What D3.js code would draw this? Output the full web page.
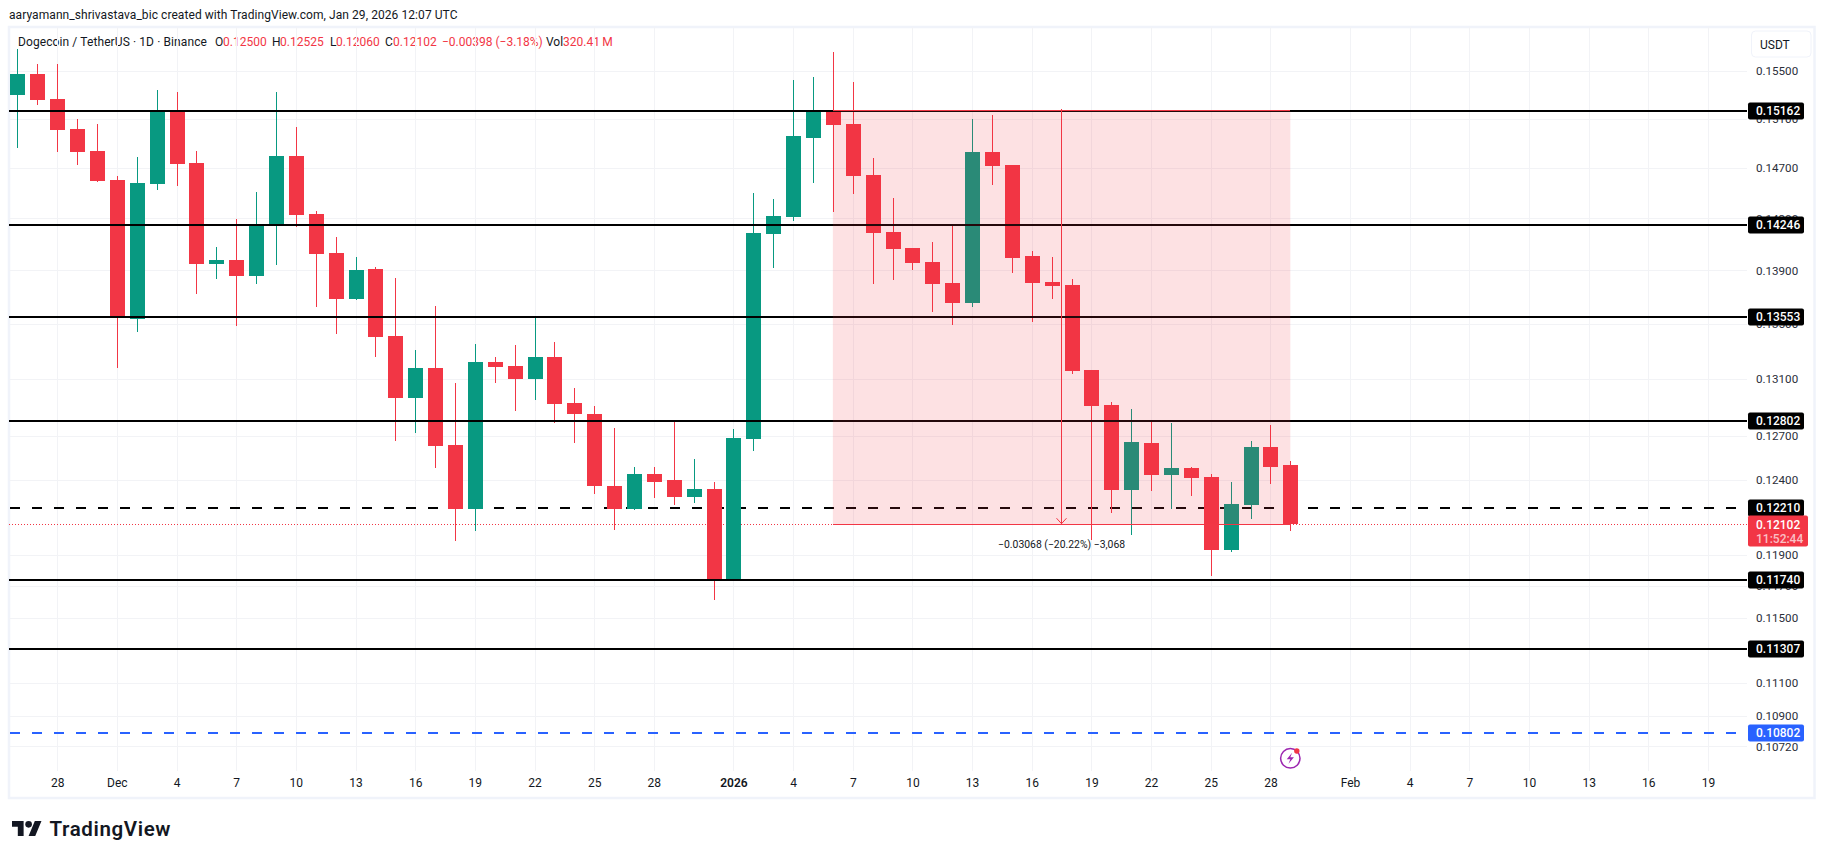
<!DOCTYPE html>
<html><head><meta charset="utf-8">
<script src="https://cdnjs.cloudflare.com/ajax/libs/d3/7.8.5/d3.min.js"></script>
<style>
html,body{margin:0;padding:0;background:#fff}
svg{display:block}
text{font-family:Roboto,"Liberation Sans",sans-serif}
</style></head><body>
<svg id="c" width="1825" height="859"></svg>
<script>
const opens=[.15295,.15472,.15261,.15013,.14834,.14600,.13535,.14570,.15158,.14737,.13948,.13976,.13857,.14254,.14793,.14332,.14030,.13684,.13908,.13408,.12968,.13175,.12634,.12202,.13219,.13190,.13103,.13255,.12926,.12849,.12360,.12200,.12435,.12394,.12280,.12334,.11742,.12677,.14176,.14308,.14939,.15156,.15054,.14640,.14192,.14068,.13961,.13801,.13652,.14826,.14721,.14007,.13809,.13786,.13161,.12912,.12327,.12647,.12428,.12476,.12421,.11936,.12227,.12620,.12500];
const highs=[.15682,.15557,.15557,.15095,.15054,.14632,.14785,.15337,.15320,.14834,.14076,.14293,.14505,.15320,.15030,.14355,.14153,.13999,.13923,.13839,.13306,.13630,.13068,.13350,.13255,.13342,.13543,.13364,.13032,.12905,.12751,.12489,.12489,.12800,.12537,.12381,.12744,.14497,.14450,.15421,.15446,.15659,.15404,.14777,.14458,.14068,.14115,.14246,.15095,.15129,.14721,.14045,.13999,.13832,.13161,.12933,.12884,.12795,.12786,.12489,.12435,.12381,.12661,.12772,.12525];
const lows=[.14861,.15212,.14826,.14723,.14584,.13178,.13437,.14521,.14555,.13721,.13834,.13484,.13797,.13940,.14233,.13624,.13425,.13676,.13257,.12663,.12718,.12478,.11990,.12056,.13068,.12870,.12949,.12788,.12647,.12300,.12061,.12193,.12273,.12227,.12240,.11612,.11736,.12592,.13915,.14277,.14576,.14347,.14489,.13794,.13824,.13900,.13585,.13489,.13622,.14560,.13877,.13511,.13682,.13132,.11995,.12173,.12028,.12320,.12200,.12287,.11762,.11923,.12134,.12367,.12060];
const closes=[.15472,.15255,.15007,.14828,.14592,.13556,.14576,.15156,.14731,.13948,.13976,.13857,.14246,.14793,.14326,.14024,.13684,.13900,.13403,.12968,.13175,.12629,.12202,.13219,.13183,.13103,.13255,.12919,.12849,.12354,.12200,.12435,.12381,.12280,.12334,.11742,.12682,.14184,.14316,.14956,.15156,.15046,.14632,.14184,.14061,.13953,.13794,.13652,.14826,.14713,.13991,.13801,.13779,.13154,.12905,.12327,.12654,.12428,.12476,.12414,.11936,.12233,.12620,.12489,.12102];
const solidLevels=[.15162,.14246,.13553,.12802,.11740,.11307];
const dashedLevel=.12210, blueLevel=.10802, lastPrice=.12102;
const priceTicks=[.155,.151,.147,.143,.139,.135,.131,.127,.124,.119,.117,.115,.111,.109,.1072];
const tickDays=[2,5,8,11,14,17,20,23,26,29,32,36,39,42,45,48,51,54,57,60,63,67,70,73,76,79,82,85];
const tickLabels=["28","Dec","4","7","10","13","16","19","22","25","28","2026","4","7","10","13","16","19","22","25","28","Feb","4","7","10","13","16","19"];
const zoneStart=41, zoneEnd=64, zoneTop=.15162, zoneBottom=.12102;
const zoneLabel="\u22120.03068 (\u221220.22%) \u22123,068";

const GREEN="#089981",RED="#f23645",BLUE="#2962ff",INK="#131722",GRID="#f2f3f6",FRAME="#f0f3fa";
const L=9,R=1747,T=27,B=771;
const svg=d3.select("#c");
const x=d3.scaleLinear().domain([0,85]).range([17.4,1708]);
const y=d3.scaleLog().domain([.15162,.10802]).range([111,732.5]);
const px=v=>Math.round(x(v))+.5;
const py=v=>Math.round(y(v));

// frame
svg.append("rect").attr("x",9).attr("y",27).attr("width",1805.5).attr("height",771).attr("fill","none").attr("stroke",FRAME).attr("stroke-width",2.5);
// header text
svg.append("text").attr("x",9).attr("y",19).attr("font-size",12).attr("letter-spacing",.07).attr("fill",INK).text("aaryamann_shrivastava_bic created with TradingView.com, Jan 29, 2026 12:07 UTC");
const legend=[[18,"Dogecoin / TetherUS \u00b7 1D \u00b7 Binance",INK],[215,"O",INK],[223,"0.12500",RED],[272,"H",INK],[280,"0.12525",RED],[330,"L",INK],[336,"0.12060",RED],[385,"C",INK],[393,"0.12102",RED],[442,"\u22120.00398 (\u22123.18%)",RED],[546,"Vol",INK],[563,"320.41\u2009M",RED]];
svg.append("g").selectAll("text").data(legend).join("text").attr("x",d=>d[0]).attr("y",46).attr("font-size",12).attr("letter-spacing",(d,i)=>i?0:.1).attr("fill",d=>d[2]).text(d=>d[1]);

// grid
const grid=svg.append("g").attr("shape-rendering","crispEdges");
grid.selectAll("line.v").data(tickDays).join("line").attr("class","v").attr("x1",px).attr("x2",px).attr("y1",T).attr("y2",B).attr("stroke",GRID);
grid.selectAll("line.h").data(priceTicks).join("line").attr("class","h").attr("x1",L).attr("x2",R).attr("y1",d=>py(d)+.5).attr("y2",d=>py(d)+.5).attr("stroke",GRID);

// axes
const yAxis=d3.axisRight(y).tickValues(priceTicks).tickSize(0).tickPadding(0).tickFormat(d3.format(".5f"));
const ya=svg.append("g").attr("transform","translate(1756,0)").call(yAxis);
ya.select(".domain").remove();
ya.selectAll("text").attr("font-size",11.6).attr("fill","#2a2e39").attr("font-family","Roboto");
const xAxis=d3.axisBottom(x).tickValues(tickDays).tickSize(0).tickPadding(0).tickFormat((d,i)=>tickLabels[i]);
const xa=svg.append("g").attr("transform","translate(0,778)").call(xAxis);
xa.select(".domain").remove();
xa.selectAll("text").attr("font-size",12).attr("fill",INK).attr("font-family","Roboto").attr("font-weight",(d,i)=>tickLabels[i]==="2026"?600:400);

// lines under the candles
const under=svg.append("g").attr("shape-rendering","crispEdges");
under.append("line").attr("x1",L).attr("x2",R).attr("y1",py(lastPrice)+.5).attr("y2",py(lastPrice)+.5).attr("stroke",RED).attr("stroke-dasharray","1 2");
under.append("line").attr("x1",10).attr("x2",R-10).attr("y1",py(dashedLevel)).attr("y2",py(dashedLevel)).attr("stroke","#000").attr("stroke-width",2).attr("stroke-dasharray","10 12");

// candles
const idx=d3.range(opens.length);
const up=i=>closes[i]>=opens[i];
const cg=svg.append("g").attr("shape-rendering","crispEdges");
cg.selectAll("line").data(idx).join("line").attr("x1",px).attr("x2",px).attr("y1",i=>y(highs[i])).attr("y2",i=>y(lows[i])).attr("stroke",i=>up(i)?GREEN:RED).attr("stroke-width",1);
cg.selectAll("rect").data(idx).join("rect").attr("x",i=>Math.round(x(i))-7).attr("width",15).attr("y",i=>y(Math.max(opens[i],closes[i]))).attr("height",i=>Math.max(1,Math.abs(y(opens[i])-y(closes[i])))).attr("fill",i=>up(i)?GREEN:RED);

// solid levels
svg.append("g").attr("shape-rendering","crispEdges").selectAll("line").data(solidLevels).join("line").attr("x1",L).attr("x2",R).attr("y1",py).attr("y2",py).attr("stroke","#000").attr("stroke-width",2);
svg.append("line").attr("x1",10).attr("x2",R-10).attr("y1",py(blueLevel)).attr("y2",py(blueLevel)).attr("stroke",BLUE).attr("stroke-width",2).attr("stroke-dasharray","10 12").attr("shape-rendering","crispEdges");

// short-position zone
const zx0=x(zoneStart),zx1=x(zoneEnd),zyT=y(zoneTop),zyB=y(zoneBottom),zxm=(zx0+zx1)/2;
svg.append("rect").attr("x",zx0).attr("y",zyT).attr("width",zx1-zx0).attr("height",zyB-zyT).attr("fill",RED).attr("fill-opacity",.15);
const zl=svg.append("g").attr("stroke",RED).attr("fill","none").attr("shape-rendering","crispEdges");
zl.append("line").attr("x1",zx0).attr("x2",zx1).attr("y1",Math.round(zyT)-.5).attr("y2",Math.round(zyT)-.5);
zl.append("line").attr("x1",zx0).attr("x2",zx1).attr("y1",Math.round(zyB)+.5).attr("y2",Math.round(zyB)+.5);
zl.append("line").attr("x1",Math.floor(zxm)+.5).attr("x2",Math.floor(zxm)+.5).attr("y1",zyT-2).attr("y2",zyB);
svg.append("path").attr("d",d3.line()([[Math.floor(zxm)-4.5,zyB-6],[Math.floor(zxm)+.5,zyB-.5],[Math.floor(zxm)+5.5,zyB-6]])).attr("fill","none").attr("stroke",RED);
svg.append("text").attr("x",zxm).attr("y",y(zoneBottom)+24).attr("text-anchor","middle").attr("font-size",10.4).attr("fill",INK).text(zoneLabel);

// price tags
const tags=[...solidLevels.map(v=>[v,"#000"]),[dashedLevel,"#000"],[blueLevel,BLUE]];
const tg=svg.append("g").selectAll("g").data(tags).join("g").attr("transform",d=>`translate(1748,${py(d[0])-8.5})`);
tg.append("rect").attr("width",56).attr("height",17).attr("rx",2).attr("fill",d=>d[1]);
tg.append("text").attr("x",8).attr("y",12.7).attr("font-size",12).attr("font-weight",500).attr("fill","#fff").text(d=>d3.format(".5f")(d[0]));
const lt=svg.append("g").attr("transform",`translate(1748,${py(lastPrice)-8.5})`);
lt.append("rect").attr("width",60).attr("height",31).attr("rx",2).attr("fill",RED);
lt.append("text").attr("x",8).attr("y",13).attr("font-size",12).attr("font-weight",500).attr("fill","#fff").text(d3.format(".5f")(lastPrice));
lt.append("text").attr("x",8).attr("y",27.5).attr("font-size",12).attr("font-weight",500).attr("fill","#fff").attr("fill-opacity",.7).text("11:52:44");

// USDT button
svg.append("rect").attr("x",1751.5).attr("y",31).attr("width",59.5).attr("height",26).attr("rx",4).attr("fill","#fff").attr("stroke",FRAME);
svg.append("text").attr("x",1760).attr("y",49).attr("font-size",12).attr("fill",INK).text("USDT");

// lightning badge
const bx=x(64),by=758.3;
const badge=svg.append("g").attr("transform",`translate(${bx},${by})`);
badge.append("circle").attr("r",9.7).attr("fill","#fff").attr("stroke","#9c27b0").attr("stroke-width",1.5);
badge.append("path").attr("d","M1.8,-5.5L-3.6,1H0L-1.8,5.5L3.6,-1H0Z").attr("fill","#9c27b0");
badge.append("circle").attr("cx",6.5).attr("cy",-7.3).attr("r",2.7).attr("fill",RED);

// TradingView logo
svg.append("path").attr("transform","translate(12,817.7) scale(.83)").attr("d","M14 22H7V11H0V4h14v18zM28 22h-8l7.5-18h8L28 22z").attr("fill","#131722");
svg.append("circle").attr("transform","translate(12,817.7) scale(.83)").attr("cx",20).attr("cy",8).attr("r",4).attr("fill","#131722");
svg.append("text").attr("x",49.5).attr("y",836).attr("font-family","Inter").attr("font-size",20.5).attr("font-weight",600).attr("fill","#131722").attr("textLength",121).text("TradingView");
</script>
</body></html>
